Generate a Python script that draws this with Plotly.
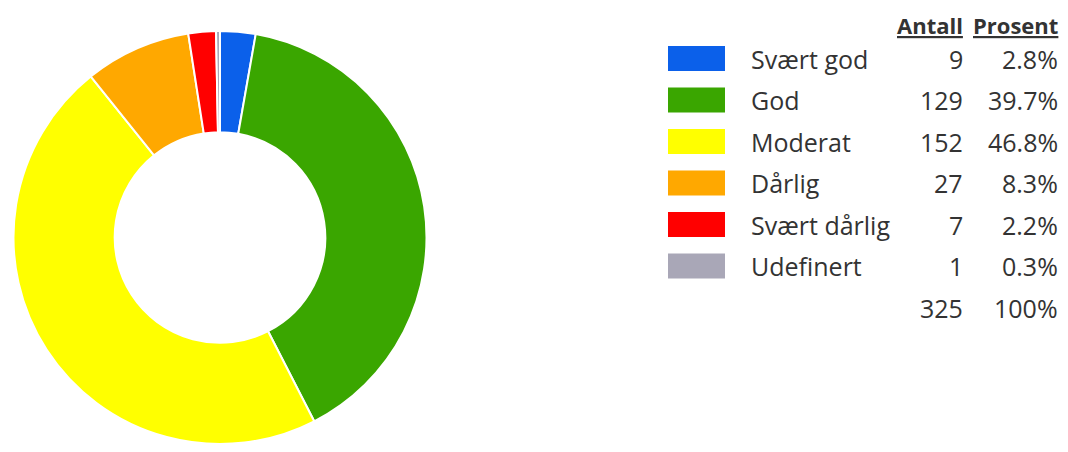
import plotly.graph_objects as go

labels = ["Svært god", "God", "Moderat", "Dårlig", "Svært dårlig", "Udefinert"]
counts = [9, 129, 152, 27, 7, 1]
percents = ["2.8%", "39.7%", "46.8%", "8.3%", "2.2%", "0.3%"]
total_count = "325"
total_pct = "100%"
colors = ["#0B60EA", "#3AA600", "#FFFF00", "#FFA800", "#FF0000", "#A9A7B7"]
headers = ["Antall", "Prosent"]

# page body has an 8px margin on every side; figure fills the space inside it
OFF = 8
W, H = 1052, 436
def px(x):
    return (x - OFF) / W
def py(y):
    return 1 - (y - OFF) / H

fig = go.Figure()
fig.add_trace(go.Pie(
    labels=labels, values=counts, sort=False, direction="clockwise", rotation=0,
    hole=0.51, textinfo="none", hoverinfo="label+value+percent",
    marker=dict(colors=colors, line=dict(color="white", width=2)),
    domain=dict(x=[px(8), px(432)], y=[0, py(31)]),
    showlegend=False,
))

font = dict(family="Open Sans, Noto Sans, sans-serif", size=25, color="#333333")
hfont = dict(family="Open Sans, Noto Sans, sans-serif", size=22, color="#333333")
ann = []
shapes = []
row0, pitch = 58.5, 41.5
for i, lab in enumerate(labels):
    yc = row0 + i * pitch
    shapes.append(dict(type="rect", xref="paper", yref="paper",
                       x0=px(668), x1=px(725), y0=py(yc - 12.5), y1=py(yc + 12.5),
                       fillcolor=colors[i], line=dict(width=0)))
    ann.append(dict(text=lab, x=px(749), y=py(yc), xanchor="left", yanchor="middle", font=font))
    ann.append(dict(text=str(counts[i]), x=px(965), y=py(yc), xanchor="right", yanchor="middle", font=font))
    ann.append(dict(text=percents[i], x=px(1060), y=py(yc), xanchor="right", yanchor="middle", font=font))
yt = row0 + 6 * pitch
ann.append(dict(text=total_count, x=px(965), y=py(yt), xanchor="right", yanchor="middle", font=font))
ann.append(dict(text=total_pct, x=px(1060), y=py(yt), xanchor="right", yanchor="middle", font=font))
ann.append(dict(text="<b><u>" + headers[0] + "</u></b>", x=px(965), y=py(8), xanchor="right", yanchor="top", font=hfont))
ann.append(dict(text="<b><u>" + headers[1] + "</u></b>", x=px(1060), y=py(8), xanchor="right", yanchor="top", font=hfont))
for a in ann:
    a.update(xref="paper", yref="paper", showarrow=False)

fig.update_layout(
    width=W, height=H, margin=dict(l=0, r=0, t=0, b=0),
    paper_bgcolor="white", plot_bgcolor="white",
    annotations=ann, shapes=shapes,
)
fig.write_html("out.html")
